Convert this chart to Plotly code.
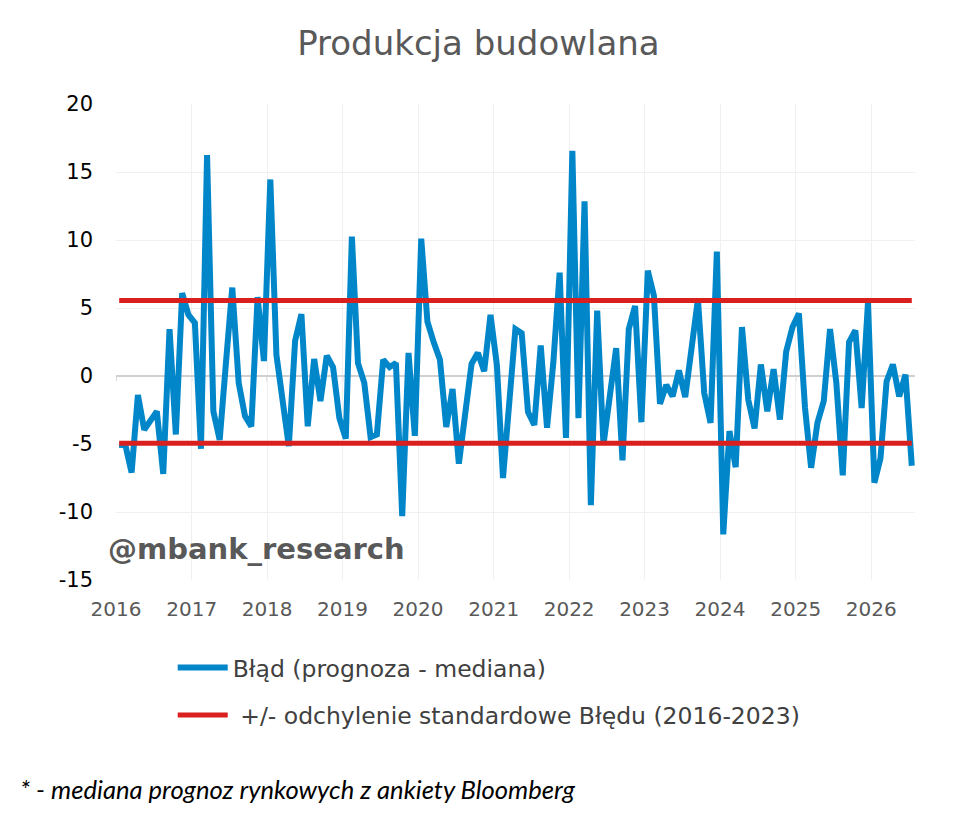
import pandas as pd
import plotly.graph_objects as go

# ---- data ----
START_MONTH = "2016-01-01"
ERROR_VALUES = [
    -5.05, -5.1, -7.1, -1.4, -3.95, -3.3, -2.6, -7.2, 3.45, -4.3, 6.1, 4.5,      # 2016
    3.9, -5.35, 16.25, -2.6, -4.7, 1.0, 6.5, -0.5, -2.95, -3.7, 5.8, 1.1,        # 2017
    14.45, 1.55, -1.7, -5.15, 2.6, 4.55, -3.7, 1.25, -1.85, 1.5, 0.65, -3.1,     # 2018
    -4.6, 10.25, 0.95, -0.5, -4.5, -4.3, 1.2, 0.65, 0.95, -10.3, 1.7, -4.4,      # 2019
    10.1, 4.0, 2.5, 1.2, -3.75, -0.95, -6.45, -2.7, 0.9, 1.7, 0.35, 4.5,         # 2020
    0.8, -7.5, -1.6, 3.45, 3.15, -2.65, -3.6, 2.25, -3.8, 1.0, 7.6, -4.55,       # 2021
    16.55, -3.1, 12.85, -9.5, 4.8, -5.05, -1.5, 2.05, -6.2, 3.45, 5.15, -3.4,    # 2022
    7.75, 5.9, -2.05, -0.65, -1.5, 0.4, -1.55, 2.05, 5.65, -1.25, -3.45, 9.15,   # 2023
    -11.65, -4.05, -6.7, 3.6, -1.75, -3.85, 0.85, -2.6, 0.5, -3.2, 1.8, 3.6,     # 2024
    4.6, -2.35, -6.75, -3.45, -1.85, 3.45, -0.5, -7.3, 2.5, 3.35, -2.35, 5.4,    # 2025
    -7.85, -6.05, -0.4, 0.85, -1.5, 0.1, -6.6,                                   # 2026
]
STD_UPPER = 5.55
STD_LOWER = -4.95
TICK_YEARS = list(range(2016, 2027))
Y_TICKS = [-15, -10, -5, 0, 5, 10, 15, 20]

SERIES_NAME = "Błąd (prognoza - mediana)"
STD_NAME = " +/- odchylenie standardowe Błędu (2016-2023)"
TITLE = "Produkcja budowlana"
WATERMARK = "@mbank_research"
FOOTNOTE = "* - mediana prognoz rynkowych z ankiety Bloomberg"

dates = pd.date_range(START_MONTH, periods=len(ERROR_VALUES), freq="MS")
upper = [STD_UPPER] * len(dates)
lower = [STD_LOWER] * len(dates)

BLUE = "#0086C9"
RED = "#DA1F1F"
FONT = "DejaVu Sans"

fig = go.Figure()
fig.add_trace(go.Scatter(
    x=dates, y=ERROR_VALUES, mode="lines", name=SERIES_NAME,
    line=dict(color=BLUE, width=6), xperiod="M1", xperiodalignment="middle",
    legendgroup="a",
))
fig.add_trace(go.Scatter(
    x=dates, y=upper, mode="lines", name=STD_NAME,
    line=dict(color=RED, width=5), xperiod="M1", xperiodalignment="middle",
    legendgroup="b",
))
fig.add_trace(go.Scatter(
    x=dates, y=lower, mode="lines", name=STD_NAME, showlegend=False,
    line=dict(color=RED, width=5), xperiod="M1", xperiodalignment="middle",
    legendgroup="b",
))

# tick marks hanging from the zero line
for yr in TICK_YEARS:
    fig.add_shape(type="line", xref="x", yref="y",
                  x0=f"{yr}-01-01", x1=f"{yr}-01-01", y0=0, y1=-0.4,
                  line=dict(color="#d0d0d0", width=1.5), layer="below")

fig.update_layout(
    width=960, height=819,
    margin=dict(l=108, r=53, t=96, b=247),
    paper_bgcolor="white", plot_bgcolor="white",
    font=dict(family=FONT, size=20, color="#404040"),
    title=dict(text=TITLE, x=0.49, xref="container", y=1 - 35 / 819,
               yanchor="middle", xanchor="center",
               font=dict(family=FONT, size=34, color="#595959")),
    showlegend=True,
    legend=dict(orientation="v", x=0.071, xanchor="left", y=-0.138, yanchor="top",
                font=dict(family=FONT, size=23.5, color="#404040"),
                tracegroupgap=14, itemwidth=50, bgcolor="rgba(0,0,0,0)"),
    annotations=[
        dict(text=f"<b>{WATERMARK}</b>", xref="paper", yref="paper",
             x=-0.012, y=0.066, xanchor="left", yanchor="middle", showarrow=False,
             font=dict(family=FONT, size=29, color="#595959")),
        dict(text=f"<i>{FOOTNOTE}</i>", xref="paper", yref="paper",
             x=-0.123, y=-0.44, xanchor="left", yanchor="middle", showarrow=False,
             font=dict(family="Lato", size=25.6, color="#000000")),
    ],
)

fig.update_xaxes(
    type="date", range=["2016-01-01", "2026-08-01"],
    tickvals=[f"{y}-01-01" for y in TICK_YEARS], ticktext=[str(y) for y in TICK_YEARS],
    showgrid=True, gridcolor="#f0f0f0", gridwidth=1,
    showline=False, zeroline=False, ticks="",
    tickfont=dict(family=FONT, size=20, color="#595959"),
    ticklabelstandoff=15,
)
fig.update_yaxes(
    range=[-15, 20], tickvals=Y_TICKS, ticktext=[str(v) for v in Y_TICKS],
    showgrid=True, gridcolor="#f0f0f0", gridwidth=1,
    zeroline=True, zerolinecolor="#d0d0d0", zerolinewidth=2,
    showline=False, ticks="",
    tickfont=dict(family=FONT, size=21, color="#000000"),
    ticklabelstandoff=22,
)

fig.write_html("out.html")
